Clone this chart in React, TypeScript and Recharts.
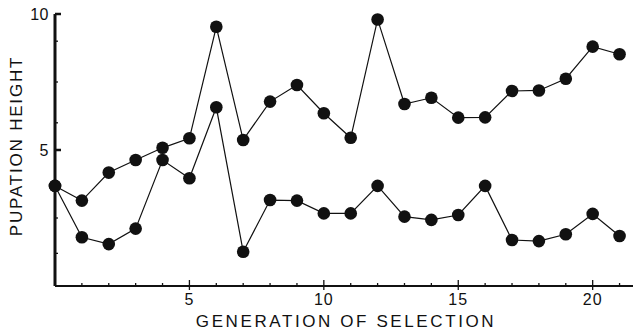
import React from 'react';
import { LineChart, Line, XAxis, YAxis } from 'recharts';

// generation of selection (x)
const generations = [0, 1, 2, 3, 4, 5, 6, 7, 8, 9, 10, 11, 12, 13, 14, 15, 16, 17, 18, 19, 20, 21];

// pupation height, line selected upward
const upLine = [3.68, 3.14, 4.17, 4.63, 5.08, 5.43, 9.53, 5.37, 6.78, 7.39, 6.35, 5.45, 9.8, 6.69, 6.92, 6.19, 6.2, 7.17, 7.19, 7.62, 8.8, 8.52];

// pupation height, line selected downward
const downLine = [3.68, 1.79, 1.54, 2.11, 4.63, 3.96, 6.57, 1.26, 3.16, 3.14, 2.67, 2.67, 3.68, 2.55, 2.43, 2.61, 3.68, 1.69, 1.65, 1.9, 2.65, 1.84];

const xTicks = [1, 2, 3, 4, 5, 6, 7, 8, 9, 10, 11, 12, 13, 14, 15, 16, 17, 18, 19, 20, 21];
const xLabelled = [5, 10, 15, 20];
const yTicks = [1.2, 2.5, 5, 6, 7.5, 9, 10];
const yLabelled = [5, 10];

const FONT = '"Liberation Sans", Arial, sans-serif';
const INK = '#111';

const data = generations.map((g, i) => ({ gen: g, up: upLine[i], down: downLine[i] }));

const XTick = ({ x, y, payload }: any) => {
  const major = xLabelled.includes(payload.value);
  return (
    <g>
      <line x1={x} x2={x} y1={major ? y - 6 : y - 3} y2={major ? y + 4 : y} stroke={INK} strokeWidth={1.3} />
      {major && (
        <text x={x} y={y + 19} textAnchor="middle" fontSize={16} fontFamily={FONT} fill={INK} letterSpacing={1}>
          {payload.value}
        </text>
      )}
    </g>
  );
};

const YTick = ({ x, y, payload }: any) => {
  const major = yLabelled.includes(payload.value);
  return (
    <g>
      <line x1={x} x2={x + (major ? 6 : 3)} y1={y} y2={y} stroke={INK} strokeWidth={major ? 2.5 : 1.3} />
      {major && (
        <text x={x - 6} y={y + 6} textAnchor="end" fontSize={16} fontFamily={FONT} fill={INK} letterSpacing={0.5}>
          {payload.value}
        </text>
      )}
    </g>
  );
};

const XTitle = ({ viewBox }: any) => (
  <text
    x={viewBox.x + viewBox.width / 2 + 2}
    y={viewBox.y + 41}
    textAnchor="middle"
    fontSize={17}
    fontFamily={FONT}
    fill={INK}
    letterSpacing={2.6}
  >
    GENERATION OF SELECTION
  </text>
);

const YTitle = ({ viewBox }: any) => {
  const cx = viewBox.x + 22;
  const cy = viewBox.y + viewBox.height / 2 - 4;
  return (
    <text
      x={cx}
      y={cy}
      transform={`rotate(-90, ${cx}, ${cy})`}
      textAnchor="middle"
      fontSize={17}
      fontFamily={FONT}
      fill={INK}
      letterSpacing={1.8}
    >
      PUPATION HEIGHT
    </text>
  );
};

export default function App() {
  return (
    <div style={{ position: 'absolute', left: 0, top: 0, background: '#fff' }}>
      <LineChart width={635} height={332} data={data} margin={{ top: 14, right: 2, left: 0, bottom: 0 }}>
        <XAxis
          dataKey="gen"
          type="number"
          domain={[0, 21.5]}
          ticks={xTicks}
          interval={0}
          height={46}
          tickSize={0}
          tickMargin={0}
          tickLine={false}
          tick={<XTick />}
          axisLine={{ stroke: INK, strokeWidth: 1.8 }}
          label={<XTitle />}
        />
        <YAxis
          type="number"
          domain={[0, 10]}
          ticks={yTicks}
          interval={0}
          width={55}
          tickSize={0}
          tickMargin={0}
          tickLine={false}
          tick={<YTick />}
          axisLine={{ stroke: INK, strokeWidth: 3 }}
          label={<YTitle />}
        />
        <Line
          dataKey="up"
          stroke={INK}
          strokeWidth={1.2}
          dot={{ r: 6.3, fill: INK, stroke: INK, strokeWidth: 0 }}
          isAnimationActive={false}
        />
        <Line
          dataKey="down"
          stroke={INK}
          strokeWidth={1.2}
          dot={{ r: 6.3, fill: INK, stroke: INK, strokeWidth: 0 }}
          isAnimationActive={false}
        />
      </LineChart>
    </div>
  );
}
